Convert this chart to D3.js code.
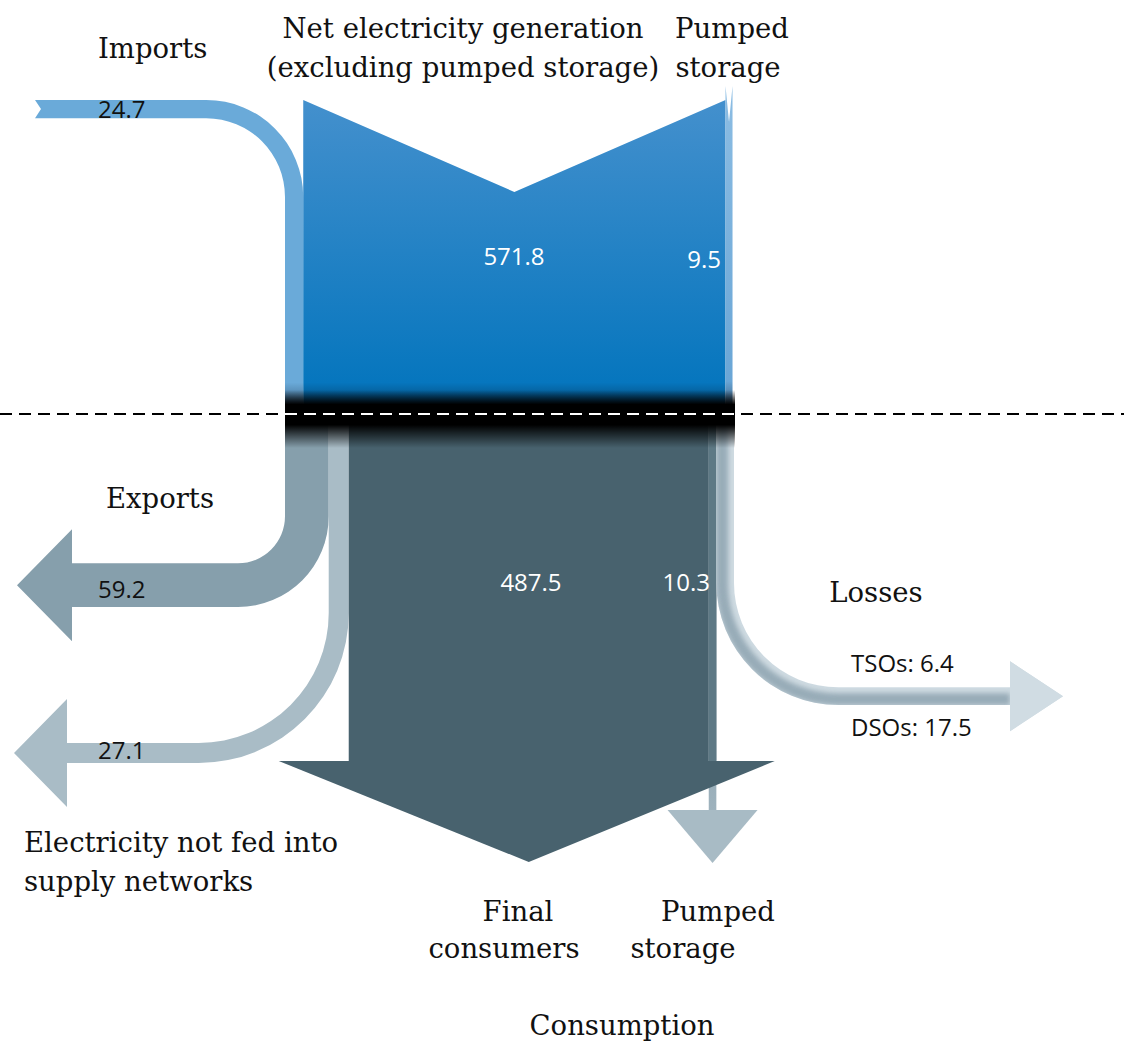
<!DOCTYPE html>
<html>
<head>
<meta charset="utf-8">
<script src="https://cdn.jsdelivr.net/npm/d3@7"></script>
<style>
  html, body { margin: 0; padding: 0; background: #fff; }
  .serif { font-family: "DejaVu Serif", serif; font-size: 27.5px; fill: #111; }
  .num { font-family: "Open Sans", "Noto Sans", sans-serif; font-size: 24px; }
</style>
</head>
<body>
<svg id="chart" width="1124" height="1042"></svg>
<script>
// Electricity balance (TWh): supply above the dashed line, use below it
const sourceNames  = ["Imports", "Net electricity generation", "Pumped storage"];
const sourceValues = [24.7, 571.8, 9.5];

const useNames  = ["Exports", "Electricity not fed into supply networks", "Final consumers", "Pumped storage", "Losses"];
const useValues = [59.2, 27.1, 487.5, 10.3, 23.9];

const lossNames  = ["TSOs", "DSOs"];
const lossValues = [6.4, 17.5];

const fmt = d3.format(".1f");
const svg = d3.select("#chart");
const defs = svg.append("defs");

// band width scale: value -> pixels
const bw = d3.scaleLinear().domain([0, d3.sum(useValues)]).range([0, 449]);

const X0 = 285;        // left edge of the stacked bands
const SPLIT = 414;     // supply / use divider

function stackX(values) {
  let x = X0;
  return values.map(v => { const a = x; x += bw(v); return [a, x]; });
}
const srcX = stackX(sourceValues);
const useX = stackX(useValues);

// ---------- gradients ----------
function vGrad(id, y1, y2, stops) {
  const g = defs.append("linearGradient").attr("id", id)
    .attr("gradientUnits", "userSpaceOnUse")
    .attr("x1", 0).attr("x2", 0).attr("y1", y1).attr("y2", y2);
  stops.forEach(s => g.append("stop").attr("offset", s[0]).attr("stop-color", s[1]).attr("stop-opacity", s[2] == null ? 1 : s[2]));
}
vGrad("genGrad", 100, 414, [[0, "#4490cd"], [0.9, "#0676be"], [1, "#04365a"]]);
vGrad("pumpInGrad", 86, 414, [[0, "#8cbde3"], [0.9, "#6aa6d6"], [1, "#2c4a66"]]);
vGrad("importGrad", 100, 414, [[0, "#6aaad9"], [0.9, "#6aaad9"], [1, "#2c4a66"]]);
vGrad("junction", 390, 448, [[0, "#000", 0], [0.25, "#000", 1], [0.6, "#000", 1], [1, "#000", 0]]);
vGrad("pumpOutGrad", 414, 812, [[0, "#5e7985"], [0.87, "#5e7985"], [0.871, "#97acb7"], [1, "#9eb2bd"]]);

const blur = defs.append("filter").attr("id", "soft").attr("x", "-20%").attr("y", "-20%").attr("width", "140%").attr("height", "140%");
blur.append("feGaussianBlur").attr("stdDeviation", 2.6);

const g = svg.append("g");

// ---------- supply side ----------
// Imports: horizontal tail that bends down into the stack
{
  const [xL, xR] = srcX[0];
  const w = xR - xL, yT = 100, yB = yT + w, Ro = 97, Ri = Ro - w;
  const cx = xR - Ro, cy = yT + Ro, xTail = 35;
  const p = `M${xTail},${yT} L${cx},${yT} A${Ro},${Ro} 0 0 1 ${xR},${cy} L${xR},${SPLIT} L${xL},${SPLIT} L${xL},${cy}
             A${Ri},${Ri} 0 0 0 ${cx},${yB} L${xTail},${yB} L${xTail + 6},${(yT + yB) / 2} Z`;
  g.append("path").attr("d", p).attr("fill", "url(#importGrad)");
}
// Net generation: block with a V cut at the top
{
  const [xL, xR] = srcX[1];
  const mid = (xL + xR) / 2;
  const p = `M${xL},100 L${mid},192 L${xR},100 L${xR},${SPLIT} L${xL},${SPLIT} Z`;
  g.append("path").attr("d", p).attr("fill", "url(#genGrad)");
}
// Pumped storage (generation side)
{
  const [xL, xR] = srcX[2];
  const mid = (xL + xR) / 2;
  const p = `M${xL},86 L${mid},122 L${xR},86 L${xR},${SPLIT} L${xL},${SPLIT} Z`;
  g.append("path").attr("d", p).attr("fill", "url(#pumpInGrad)");
}

// ---------- use side ----------
// Exports: bends left into an arrow
{
  const [xL, xR] = useX[0];
  const w = xR - xL, yB = 607, yT = yB - w, Ri = 47, Ro = Ri + w;
  const cx = xL - Ri, cy = yB - Ro, xEnd = 72, mid = (yT + yB) / 2;
  const p = `M${xL},${SPLIT} L${xR},${SPLIT} L${xR},${cy} A${Ro},${Ro} 0 0 1 ${cx},${yB} L${xEnd},${yB}
             L${xEnd},${mid + 56} L17,${mid} L${xEnd},${mid - 56} L${xEnd},${yT} L${cx},${yT} A${Ri},${Ri} 0 0 0 ${xL},${cy} Z`;
  g.append("path").attr("d", p).attr("fill", "#869fac");
}
// Electricity not fed into supply networks
{
  const [xL, xR] = useX[1];
  const w = xR - xL, yB = 763, yT = yB - w, Ro = 150, Ri = Ro - w;
  const cx = xR - Ro, cy = yB - Ro, xEnd = 67, mid = (yT + yB) / 2;
  const p = `M${xL},${SPLIT} L${xR},${SPLIT} L${xR},${cy} A${Ro},${Ro} 0 0 1 ${cx},${yB} L${xEnd},${yB}
             L${xEnd},${mid + 54} L14,${mid} L${xEnd},${mid - 54} L${xEnd},${yT} L${cx},${yT} A${Ri},${Ri} 0 0 0 ${xL},${cy} Z`;
  g.append("path").attr("d", p).attr("fill", "#a9bcc6");
}
// Pumped storage (use side): thin stem with its own arrow
{
  const [xL, xR] = useX[3];
  const c = (xL + xR) / 2;
  g.append("path")
    .attr("d", `M${xL},${SPLIT} L${xR},${SPLIT} L${xR},812 L${xL},812 Z`)
    .attr("fill", "url(#pumpOutGrad)");
  g.append("path")
    .attr("d", `M${c - 45},810 L${c + 45},810 L${c},863 Z`)
    .attr("fill", "#a8bbc5");
}
// Final consumers: main band with a wide arrow head
{
  const [xL, xR] = useX[2];
  const c = (xL + xR) / 2, yBase = 761;
  g.append("rect").attr("x", xL).attr("y", SPLIT).attr("width", xR - xL).attr("height", yBase - SPLIT)
    .attr("fill", "#48626e");
  g.append("path")
    .attr("d", `M${xL - 70},${yBase} L${xR + 66},${yBase} L${c},862 Z`)
    .attr("fill", "#48626e");
  // the pumped-storage stem shows through the base of the main band
  const [pL, pR] = useX[3];
  g.append("rect").attr("x", pL).attr("y", SPLIT).attr("width", pR - pL).attr("height", yBase - SPLIT)
    .attr("fill", "#5e7985");
}
// Losses: bends right into an arrow, TSO + DSO stacked
{
  const [xL] = useX[4];
  const w = bw(d3.sum(lossValues));
  const yB = 705, yT = yB - w, Ro = 122, Ri = Ro - w;
  const cx = xL + Ro, cy = yB - Ro, xEnd = 1010, mid = (yT + yB) / 2;
  const p = `M${xL},${SPLIT} L${xL + w},${SPLIT} L${xL + w},${cy} A${Ri},${Ri} 0 0 0 ${cx},${yT} L${xEnd},${yT}
             L${xEnd},${mid - 35} L1063,${mid} L${xEnd},${mid + 35} L${xEnd},${yB} L${cx},${yB} A${Ro},${Ro} 0 0 1 ${xL},${cy} Z`;
  g.append("path").attr("d", p).attr("fill", "#cfdbe2");
  // darker inner stripe for the tube shading
  const clip = defs.append("clipPath").attr("id", "lossClip");
  clip.append("path").attr("d", p);
  const off = bw(lossValues[0]) + 1;
  const r = Ro - off;
  const stripe = `M${xL + off},${SPLIT} L${xL + off},${cy} A${r},${r} 0 0 0 ${cx},${cy + r} L${xEnd},${cy + r}`;
  g.append("path").attr("d", stripe).attr("fill", "none").attr("stroke", "#8aa0ad")
    .attr("stroke-width", 12).attr("filter", "url(#soft)").attr("opacity", 0.8)
    .attr("clip-path", "url(#lossClip)");
  // re-draw arrow head cleanly on top of the stripe
  g.append("path").attr("d", `M${xEnd},${mid - 35} L1063,${mid} L${xEnd},${mid + 35} Z`).attr("fill", "#d0dce3");
}

// dark junction where supply turns into use
g.append("rect").attr("x", X0).attr("y", 390).attr("width", useX[4][1] - X0 + 1).attr("height", 58)
  .attr("fill", "url(#junction)");

// dashed divider
svg.append("line").attr("x1", 0).attr("x2", 1124).attr("y1", SPLIT).attr("y2", SPLIT)
  .attr("stroke", "#000").attr("stroke-width", 2).attr("stroke-dasharray", "12,7");
svg.append("line").attr("x1", X0).attr("x2", useX[4][1]).attr("y1", SPLIT).attr("y2", SPLIT)
  .attr("stroke", "#fff").attr("stroke-width", 2).attr("stroke-dasharray", "12,7");

// ---------- labels ----------
const T = svg.append("g");
function serif(txt, x, y, anchor) {
  T.append("text").attr("class", "serif").attr("x", x).attr("y", y)
    .attr("text-anchor", anchor || "start").text(txt);
}
function num(txt, x, y, color, anchor) {
  T.append("text").attr("class", "num").attr("x", x).attr("y", y)
    .attr("fill", color).attr("text-anchor", anchor || "start").text(txt);
}

serif(sourceNames[0], 98, 58);
serif(sourceNames[1], 463, 38, "middle");
serif("(excluding pumped storage)", 463, 77, "middle");
serif("Pumped", 732, 38, "middle");
serif("storage", 728, 77, "middle");

serif(useNames[0], 160, 508, "middle");
serif("Electricity not fed into", 24, 852);
serif("supply networks", 24, 891);
serif("Losses", 876, 602, "middle");
serif("Final", 518, 921, "middle");
serif("consumers", 504, 958, "middle");
serif("Pumped", 718, 921, "middle");
serif("storage", 683, 958, "middle");
serif("Consumption", 622, 1035, "middle");

num(fmt(sourceValues[0]), 98, 118, "#111");
num(fmt(sourceValues[1]), 514, 265, "#fff", "middle");
num(fmt(sourceValues[2]), 721, 268, "#fff", "end");

num(fmt(useValues[0]), 98, 598, "#111");
num(fmt(useValues[1]), 98, 759, "#111");
num(fmt(useValues[2]), 531, 591, "#fff", "middle");
num(fmt(useValues[3]), 710, 591, "#fff", "end");
num(`${lossNames[0]}: ${fmt(lossValues[0])}`, 851, 672, "#111");
num(`${lossNames[1]}: ${fmt(lossValues[1])}`, 851, 736, "#111");
</script>
</body>
</html>
